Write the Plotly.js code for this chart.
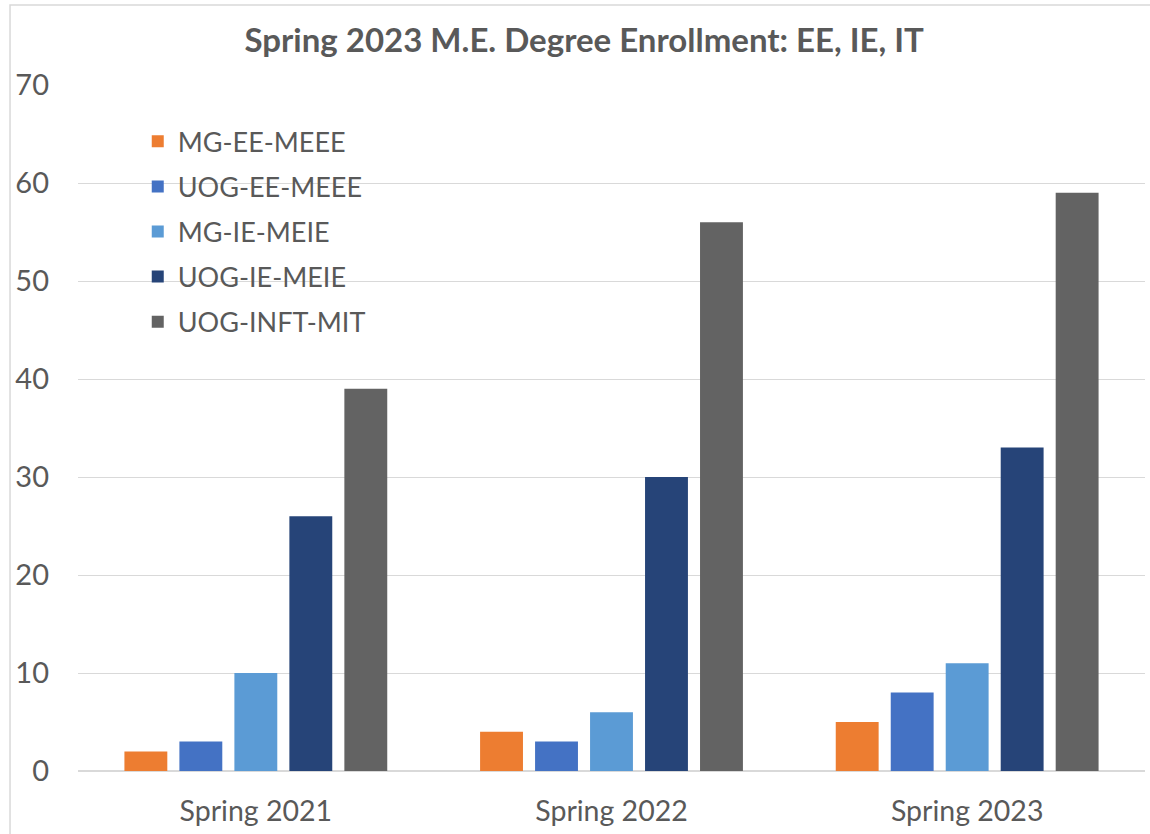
<!DOCTYPE html>
<html><head><meta charset="utf-8">
<script src="https://cdn.plot.ly/plotly-3.0.1.min.js"></script>
<style>body{margin:0;padding:0;background:#fff}#chart{width:1150px;height:834px}</style>
</head><body><div id="chart"></div>
<script>
const categories = ["Spring 2021", "Spring 2022", "Spring 2023"];
const seriesNames = ["MG-EE-MEEE", "UOG-EE-MEEE", "MG-IE-MEIE", "UOG-IE-MEIE", "UOG-INFT-MIT"];
const mgEE = [2, 4, 5];
const uogEE = [3, 3, 8];
const mgIE = [10, 6, 11];
const uogIE = [26, 30, 33];
const uogINFT = [39, 56, 59];
const colors = ["#ED7D31", "#4472C4", "#5B9BD5", "#264478", "#636363"];
const values = [mgEE, uogEE, mgIE, uogIE, uogINFT];

const traces = values.map((v, i) => ({
  type: "bar", name: seriesNames[i], x: categories, y: v, legendgroup: "g" + i,
  marker: {color: colors[i]}, hoverinfo: "x+y+name"
}));

const font = "Lato, 'Open Sans', sans-serif";
const layout = {
  width: 1150, height: 834,
  margin: {l: 78, r: 5, t: 85, b: 63},
  paper_bgcolor: "#fff", plot_bgcolor: "#fff",
  barmode: "group", bargap: 0.227, bargroupgap: 0.22,
  title: {text: "<b>Spring 2023 M.E. Degree Enrollment: EE, IE, IT</b>",
          font: {family: font, size: 33, color: "#595959"},
          x: 0.508, xanchor: "center", y: 0.952, yanchor: "middle"},
  font: {family: font, color: "#595959"},
  xaxis: {tickfont: {size: 28.5, color: "#595959"}, showgrid: false, showline: false,
          ticks: "", ticklabelstandoff: 20},
  yaxis: {range: [0, 70], dtick: 10, tickfont: {size: 29, color: "#595959"},
          gridcolor: "#D9D9D9", gridwidth: 1.3, zeroline: true, zerolinecolor: "#D9D9D9",
          zerolinewidth: 1.5, showline: false, ticks: "", ticklabelstandoff: 28},
  legend: {x: 0.056, y: 0.953, xanchor: "left", yanchor: "top",
           font: {size: 27, color: "#595959"}, bgcolor: "rgba(0,0,0,0)",
           tracegroupgap: 7, itemwidth: 30},
  shapes: [{type: "rect", xref: "paper", yref: "paper",
            x0: -0.0637, x1: 1.02, y0: -0.12, y1: 1.1166,
            line: {color: "#D9D9D9", width: 1.5}, layer: "below"}]
};
Plotly.newPlot("chart", traces, layout, {displayModeBar: false});
</script></body></html>
